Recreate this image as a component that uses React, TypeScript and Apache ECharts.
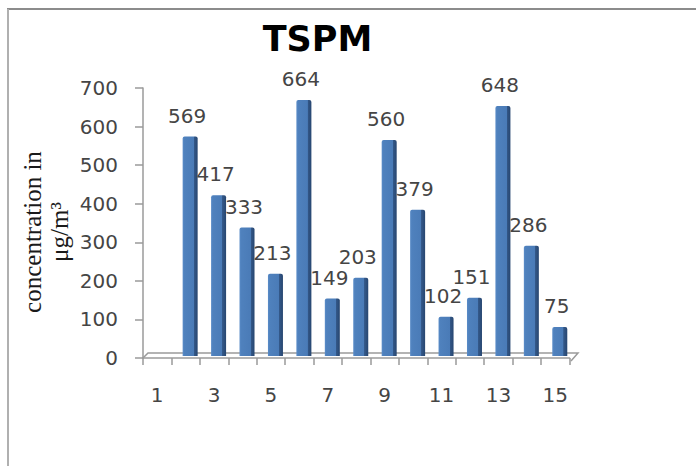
import React, { useEffect, useRef } from "react";
import * as echarts from "echarts";

const categories = ["1", "2", "3", "4", "5", "6", "7", "8", "9", "10", "11", "12", "13", "14", "15"];
const tspmValues: (number | null)[] = [null, 569, 417, 333, 213, 664, 149, 203, 560, 379, 102, 151, 648, 286, 75];
const yMin = 0;
const yMax = 700;
const yStep = 100;
const titleText = "TSPM";
const yTitleLines = ["concentration in", "μg/m³"];

export default function App() {
  const ref = useRef<HTMLDivElement>(null);
  useEffect(() => {
    if (!ref.current) return;
    const chart = echarts.init(ref.current, undefined, { renderer: "svg" });
    const barColor = new echarts.graphic.LinearGradient(0, 0, 1, 0, [
      { offset: 0, color: "#5a8cc8" },
      { offset: 0.12, color: "#4f81bd" },
      { offset: 0.74, color: "#4a7bb7" },
      { offset: 0.75, color: "#34598a" },
      { offset: 1, color: "#274670" },
    ]);
    const option: any = {
      animation: false,
      backgroundColor: "#ffffff",
      grid: [
        { left: 143, right: 126.5, top: 88, bottom: 108 },
        { left: 147.5, right: 122, top: 86, bottom: 110 },
      ],
      xAxis: [
        {
          type: "category",
          gridIndex: 0,
          data: categories,
          boundaryGap: true,
          axisLine: { show: true, lineStyle: { color: "#9a9a9a", width: 1.5 } },
          axisTick: { show: true, interval: 0, alignWithLabel: false, length: 7, lineStyle: { color: "#9a9a9a", width: 1.5 } },
          axisLabel: { interval: 1, margin: 27, fontSize: 20, fontFamily: "DejaVu Sans", color: "#454545" },
          splitLine: { show: false },
        },
        {
          type: "category",
          gridIndex: 1,
          data: categories,
          boundaryGap: true,
          show: false,
        },
      ],
      yAxis: [
        {
          type: "value",
          gridIndex: 0,
          min: yMin,
          max: yMax,
          interval: yStep,
          axisLine: { show: true, lineStyle: { color: "#9a9a9a", width: 1.5 } },
          axisTick: { show: true, length: 8, lineStyle: { color: "#9a9a9a", width: 1.5 } },
          axisLabel: { margin: 25, fontSize: 20, fontFamily: "DejaVu Sans", color: "#454545" },
          splitLine: { show: false },
        },
        {
          type: "value",
          gridIndex: 1,
          min: yMin,
          max: yMax,
          interval: yStep,
          show: false,
          splitLine: { show: false },
        },
      ],
      series: [
        {
          type: "bar",
          xAxisIndex: 1,
          yAxisIndex: 1,
          data: tspmValues,
          barWidth: 15,
          itemStyle: { color: barColor, borderRadius: [2, 2, 0, 0] },
          label: {
            show: true,
            position: "top",
            distance: 11,
            offset: [-3, 0],
            fontSize: 20,
            fontFamily: "DejaVu Sans",
            color: "#454545",
          },
        },
      ],
      graphic: [
        {
          type: "line",
          shape: { x1: 7, y1: 9, x2: 696, y2: 9 },
          style: { stroke: "#8c8c8c", lineWidth: 2 },
        },
        {
          type: "line",
          shape: { x1: 8, y1: 9, x2: 8, y2: 466 },
          style: { stroke: "#b0b0b0", lineWidth: 2 },
        },
        {
          type: "polyline",
          shape: { points: [[143, 358], [148, 353], [578, 353], [571, 361]] },
          style: { stroke: "#9a9a9a", lineWidth: 1.5, fill: null },
        },
        {
          type: "text",
          x: 317.5,
          y: 39,
          style: {
            text: titleText,
            fontSize: 35,
            fontWeight: "bold",
            fontFamily: "DejaVu Sans",
            fill: "#000000",
            textAlign: "center",
            textVerticalAlign: "middle",
          },
        },
        {
          type: "text",
          x: 46,
          y: 232,
          rotation: Math.PI / 2,
          style: {
            text: yTitleLines.join("\n"),
            fontSize: 25,
            lineHeight: 27,
            fontFamily: "Liberation Serif",
            fill: "#1a1a1a",
            textAlign: "center",
            textVerticalAlign: "middle",
          },
        },
      ],
    };
    chart.setOption(option);
    return () => chart.dispose();
  }, []);
  return (
    <div
      ref={ref}
      style={{ position: "fixed", left: 0, top: 0, width: 696, height: 466, background: "#fff" }}
    />
  );
}
